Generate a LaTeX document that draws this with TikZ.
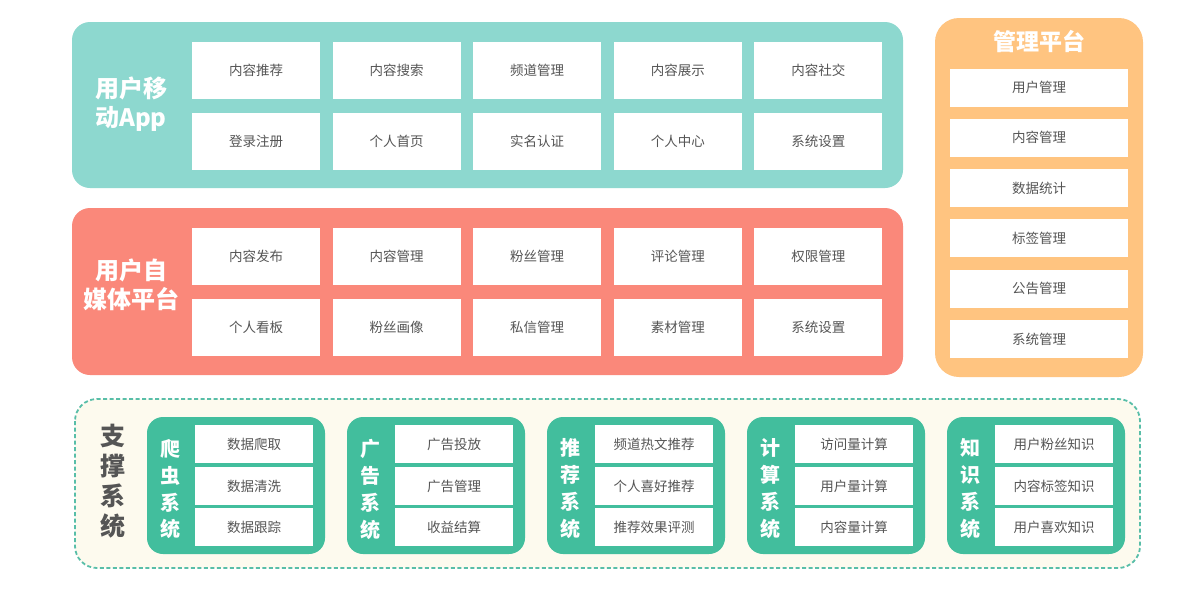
\documentclass[tikz,border=0pt]{standalone}
\usepackage{fontspec}
\setmainfont{Noto Sans CJK SC}
\usepackage{xcolor}
\usetikzlibrary{positioning}

\definecolor{appteal}{RGB}{141,216,207}
\definecolor{mediared}{RGB}{250,136,122}
\definecolor{adminorange}{RGB}{255,196,128}
\definecolor{subgreen}{RGB}{66,190,157}
\definecolor{supportcream}{RGB}{253,250,238}
\definecolor{dashteal}{RGB}{88,190,168}
\definecolor{itemgray}{RGB}{85,85,85}

\tikzset{
  panel/.style={draw=none, rounded corners=18pt},
  paneltitle/.style={text=white, align=center, inner sep=0pt, font=\bfseries\fontsize{24}{29}\selectfont},
  item/.style={fill=white, inner sep=0pt, minimum width=128pt, minimum height=57pt, text=itemgray, font=\fontsize{13.5}{16}\selectfont},
  adminitem/.style={item, minimum width=178pt, minimum height=38pt},
  subitem/.style={item, minimum width=118pt, minimum height=38pt},
  sublabel/.style={text=white, align=center, inner sep=0pt, font=\bfseries\fontsize{20}{27}\selectfont},
}

\begin{document}
\begin{tikzpicture}[x=1pt,y=-1pt]
  \useasboundingbox[fill=white] (0,0) rectangle (1202,595);

  % Mobile app
  \draw[panel,fill=appteal] (72,22) rectangle (903,188);
  \node[paneltitle] (apptitle) at (131,104) {用户移\\动App};
  \foreach \txt [count=\i from 0] in {内容推荐,内容搜索,频道管理,内容展示,内容社交}
    \node[item] (app-a\i) at (256+140.6*\i,70.5) {\txt};
  \foreach \txt [count=\i from 0] in {登录注册,个人首页,实名认证,个人中心,系统设置}
    \node[item] (app-b\i) at (256+140.6*\i,141) {\txt};

  % Self-media platform
  \draw[panel,fill=mediared] (72,208) rectangle (903,375);
  \node[paneltitle] (mediatitle) at (131,285) {用户自\\媒体平台};
  \foreach \txt [count=\i from 0] in {内容发布,内容管理,粉丝管理,评论管理,权限管理}
    \node[item] (media-a\i) at (256+140.6*\i,256.5) {\txt};
  \foreach \txt [count=\i from 0] in {个人看板,粉丝画像,私信管理,素材管理,系统设置}
    \node[item] (media-b\i) at (256+140.6*\i,327) {\txt};

  % Admin platform
  \draw[panel,fill=adminorange,rounded corners=24pt] (935,18) rectangle (1143,377);
  \node[paneltitle, font=\bfseries\fontsize{23}{28}\selectfont] (admintitle) at (1039,42) {管理平台};
  \foreach \txt [count=\i from 0] in {用户管理,内容管理,数据统计,标签管理,公告管理,系统管理}
    \node[adminitem] (admin\i) at (1039,87.5+50.3*\i) {\txt};

  % Support systems
  \draw[fill=supportcream, draw=dashteal, line width=1.8pt, dash pattern=on 4pt off 2.5pt, rounded corners=22pt] (75,399) rectangle (1140,568);
  \node[paneltitle, text=itemgray, font=\bfseries\fontsize{25}{30}\selectfont] (supporttitle) at (113,481) {支\\撑\\系\\统};
  \foreach \sa/\sb/\a/\b/\c [count=\k from 0] in {%
      爬/虫/数据爬取/数据清洗/数据跟踪,
      广/告/广告投放/广告管理/收益结算,
      推/荐/频道热文推荐/个人喜好推荐/推荐效果评测,
      计/算/访问量计算/用户量计算/内容量计算,
      知/识/用户粉丝知识/内容标签知识/用户喜欢知识}{
    \draw[panel,fill=subgreen,rounded corners=16pt] (147+200*\k,417) rectangle ++(178,137);
    \node[sublabel] (sys\k) at (170+200*\k,489) {\sa\\\sb\\系\\统};
    \node[subitem] (sys\k-a) at (254+200*\k,444) {\a};
    \node[subitem] (sys\k-b) at (254+200*\k,486) {\b};
    \node[subitem] (sys\k-c) at (254+200*\k,527) {\c};
  }
\end{tikzpicture}
\end{document}
